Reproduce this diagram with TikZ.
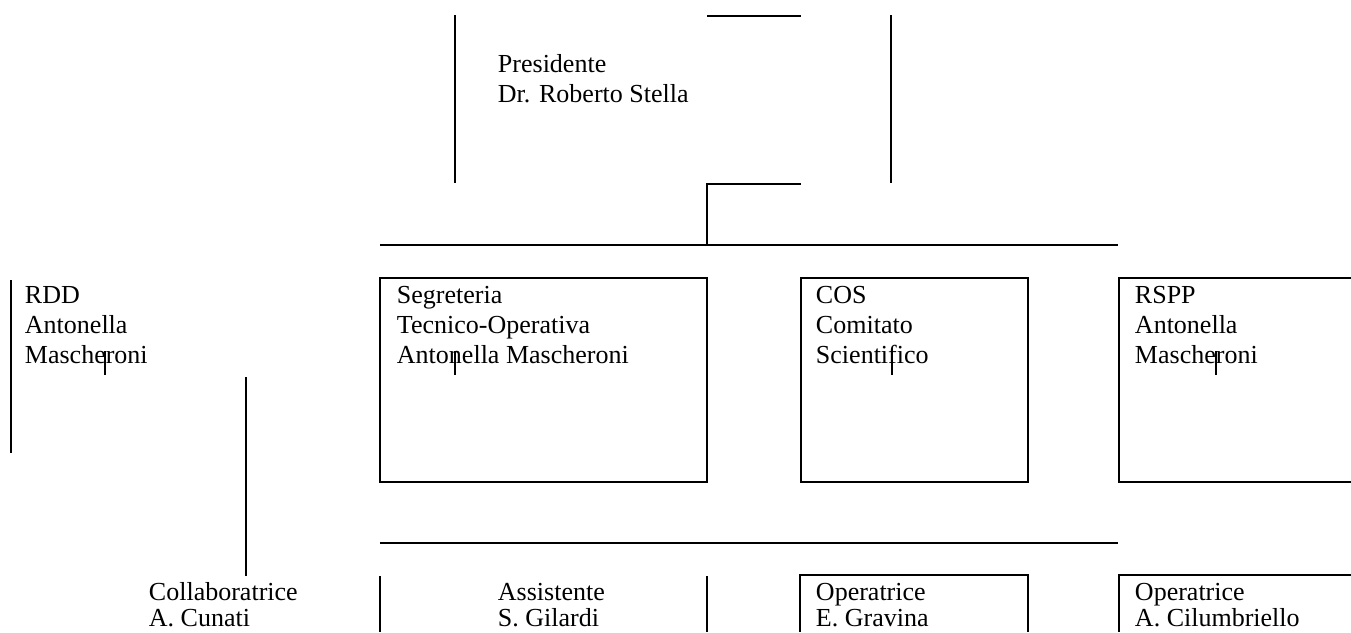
\documentclass[tikz,border=0pt]{standalone}
\usepackage{fontspec}
\setmainfont{Liberation Serif}

\begin{document}
\begin{tikzpicture}[x=0.02cm,y=-0.02cm,line width=1.1pt,
  name text/.style={anchor=base west,align=left,inner sep=0pt,
    font=\fontsize{14.8}{17.07}\selectfont},
  low text/.style={name text,font=\fontsize{14.8}{14.5}\selectfont},
  thin line/.style={line width=0.7pt},
  caret line/.style={line width=0.6pt}]
  \useasboundingbox (0,0) rectangle (1351,632);

  % texts (placed at the baseline of their last line)
  \node[name text] (pres) at (497,102) {Presidente\\Dr. Roberto Stella};
  \node[name text] (rdd) at (24,363) {RDD\\Antonella\\Mascheroni};
  \node[name text] (seg) at (396,363) {Segreteria\\Tecnico-Operativa\\Antonella Mascheroni};
  \node[name text] (cos) at (815,363) {COS\\Comitato\\Scientifico};
  \node[name text] (rspp) at (1134,363) {RSPP\\Antonella\\Mascheroni};
  \node[low text] (coll) at (148,626) {Collaboratrice\\A. Cunati};
  \node[low text] (ass) at (497,626) {Assistente\\S. Gilardi};
  \node[low text] (opg) at (815,626) {Operatrice\\E. Gravina};
  \node[low text] (opc) at (1134,626) {Operatrice\\A. Cilumbriello};

  % junctions
  \coordinate (hub) at (707,245);
  \coordinate (busl) at (380,245);
  \coordinate (busr) at (1118,245);
  \coordinate (lowl) at (380,543);
  \coordinate (lowr) at (1118,543);

  % top frame
  \draw[thin line] (455,15) -- (455,183);
  \draw[thin line] (891,15) -- (891,183);
  \draw (707,16) -- (801,16);
  \draw (801,184) -- (707,184) -- (hub);
  \draw (busl) -- (busr);

  % middle row
  \draw (11,280) -- (11,453);
  \draw (380,278) rectangle (707,482);
  \draw (801,278) rectangle (1028,482);
  \draw (1351,278) -- (1119,278) -- (1119,482) -- (1351,482);
  \draw[thin line] (246,377) -- (246,576);
  \draw (lowl) -- (lowr);

  % carets
  \foreach \cx in {105,455,892,1216}
    \draw[caret line] (\cx,351) -- (\cx,375);

  % bottom row
  \draw (380,576) -- (380,632);
  \draw (707,576) -- (707,632);
  \draw (800,632) -- (800,575) -- (1028,575) -- (1028,632);
  \draw (1351,575) -- (1119,575) -- (1119,632);
\end{tikzpicture}
\end{document}
